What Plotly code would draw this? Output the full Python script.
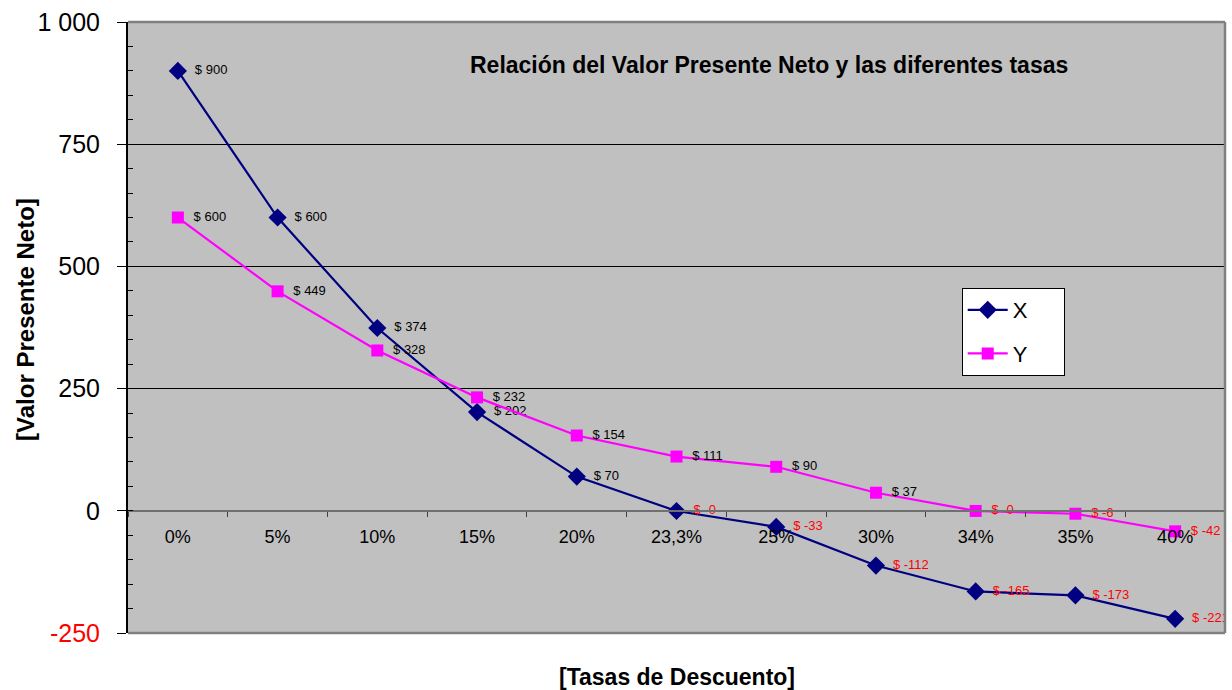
import plotly.graph_objects as go

categories = ["0%", "5%", "10%", "15%", "20%", "23,3%", "25%", "30%", "34%", "35%", "40%"]
x_values = [900, 600, 374, 202, 70, -0.4, -33, -112, -165, -173, -221]
y_values = [600, 449, 328, 232, 154, 111, 90, 37, -0.3, -6, -42]
y_tickvals = [-250, 0, 250, 500, 750, 1000]
y_ticktext = ['<span style="color:#FF0000">-250</span>', "0", "250", "500", "750", "1 000"]

FONT = "Liberation Sans, Arial, sans-serif"


def labels(vals):
    return [f"&nbsp;&nbsp;$ {v:.0f}" for v in vals]


def colors(vals):
    return ["#FF0000" if v < 0 else "#000000" for v in vals]


fig = go.Figure()
fig.add_trace(go.Scatter(
    x=categories, y=x_values, name="X&nbsp;&nbsp;&nbsp;&nbsp;&nbsp;", legendgroup="x",
    mode="lines+markers+text",
    line=dict(color="#000080", width=2.2),
    marker=dict(symbol="diamond", size=14, color="#000080"),
    text=labels(x_values), textposition="middle right",
    textfont=dict(size=13, color=colors(x_values), family=FONT),
))
fig.add_trace(go.Scatter(
    x=categories, y=y_values, name="Y&nbsp;&nbsp;&nbsp;&nbsp;&nbsp;", legendgroup="y",
    mode="lines+markers+text",
    line=dict(color="#FF00FF", width=2.2),
    marker=dict(symbol="square", size=12, color="#FF00FF"),
    text=labels(y_values), textposition="middle right",
    textfont=dict(size=13, color=colors(y_values), family=FONT),
))

fig.update_layout(
    width=1232, height=690,
    margin=dict(l=128, r=7, t=22, b=57),
    paper_bgcolor="white", plot_bgcolor="#C0C0C0",
    font=dict(family=FONT, color="black"),
    showlegend=True,
    legend=dict(
        x=0.760, y=0.5646, xanchor="left", yanchor="top",
        bgcolor="white", bordercolor="black", borderwidth=1,
        font=dict(size=22, family=FONT),
        itemwidth=40, tracegroupgap=12,
    ),
    xaxis=dict(
        type="category", range=[-0.5, 10.5],
        anchor="free", position=0.2,
        showline=True, linecolor="#707070", linewidth=2,
        ticks="outside", tickson="boundaries", ticklen=5, tickcolor="#404040",
        tickfont=dict(size=18, family=FONT),
        ticklabelstandoff=10,
        showgrid=False, zeroline=False,
    ),
    yaxis=dict(
        range=[-250, 1000], domain=[0, 1],
        tickvals=y_tickvals, ticktext=y_ticktext,
        tickfont=dict(size=25, family=FONT),
        ticks="outside", ticklen=9, tickcolor="black",
        ticklabelstandoff=12,
        minor=dict(dtick=50, ticks="inside", ticklen=5, tickcolor="black", showgrid=False),
        showline=True, linecolor="black", linewidth=2,
        showgrid=True, gridcolor="black", gridwidth=1,
        zeroline=False,
    ),
)

# plot-area frame (top, right, bottom in gray)
for x0, y0, x1, y1 in [(0, 1, 1, 1), (1, 0, 1, 1), (0, 0, 1, 0)]:
    fig.add_shape(type="line", xref="paper", yref="paper", x0=x0, y0=y0, x1=x1, y1=y1,
                  line=dict(color="#808080", width=2.5), layer="above")

fig.add_annotation(
    text="<b>Relación del Valor Presente Neto y las diferentes tasas</b>",
    xref="paper", yref="paper", x=0.584, y=0.9296, showarrow=False,
    xanchor="center", yanchor="middle", font=dict(size=23, family=FONT),
)
fig.add_annotation(
    text="<b>[Tasas de Descuento]</b>",
    xref="paper", yref="paper", x=0.5, y=-0.072, showarrow=False,
    xanchor="center", yanchor="middle", font=dict(size=23, family=FONT),
)
fig.add_annotation(
    text="<b>[Valor Presente Neto]</b>",
    xref="paper", yref="paper", x=-0.093, y=0.514, showarrow=False, textangle=-90,
    xanchor="center", yanchor="middle", font=dict(size=24, family=FONT),
)

fig.write_html("out.html")
